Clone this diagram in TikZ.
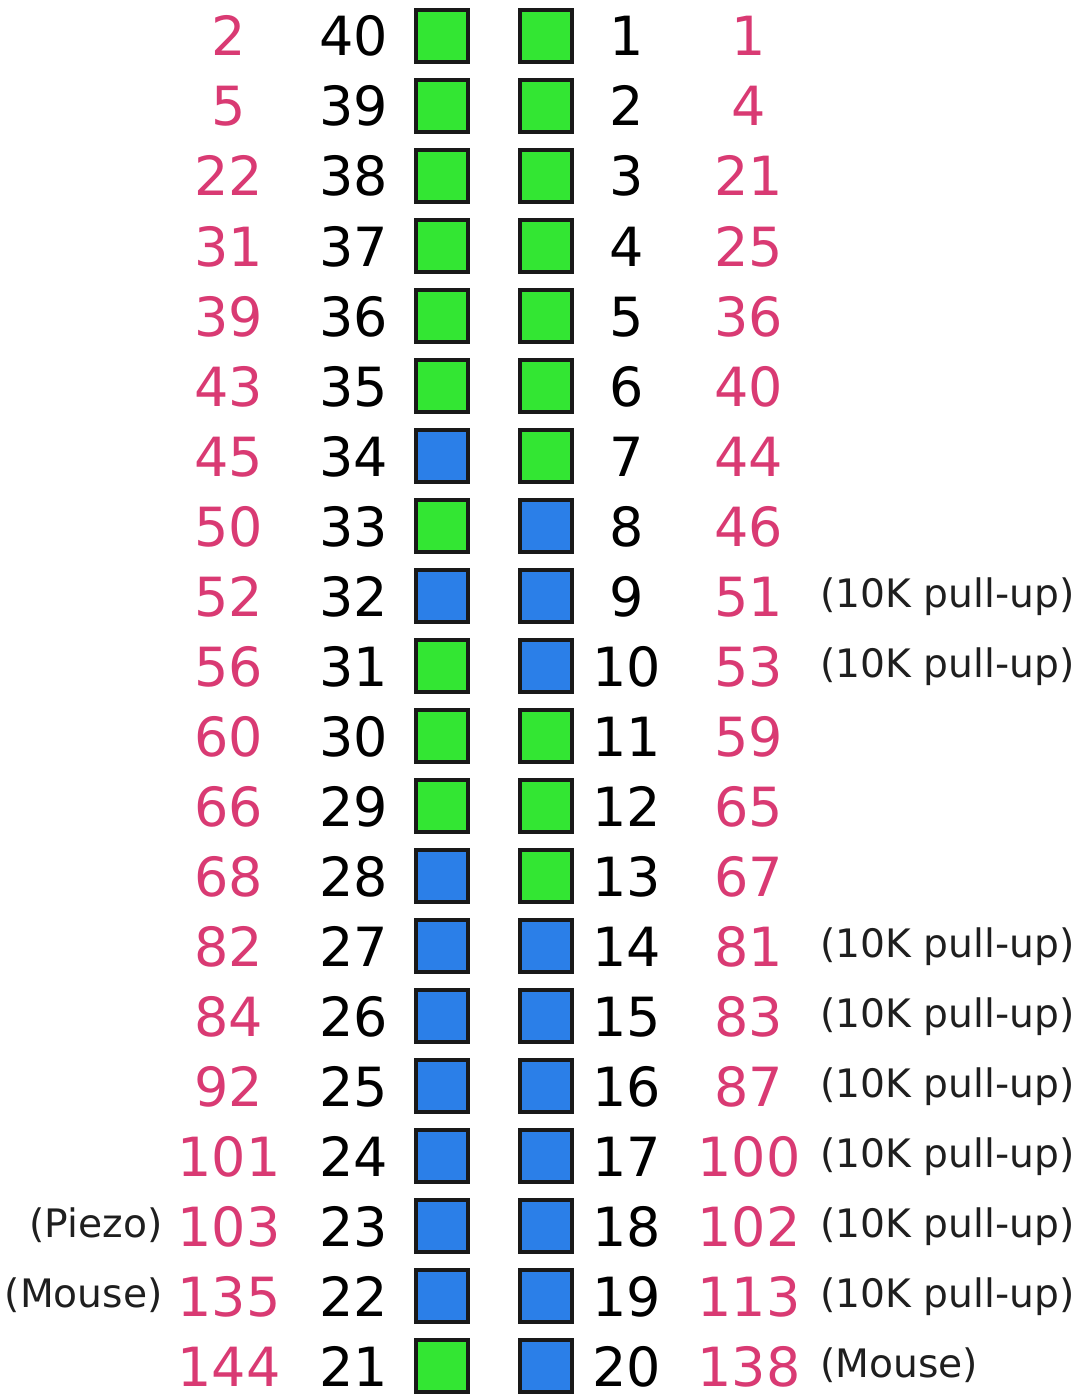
\documentclass[tikz,border=0pt]{standalone}
\usepackage{fontspec}
\setmainfont{DejaVu Sans}
\usetikzlibrary{positioning}

\definecolor{pinpink}{HTML}{D93A73}
\definecolor{padgreen}{HTML}{33E633}
\definecolor{padblue}{HTML}{2B7FE8}

\begin{document}
\begin{tikzpicture}[x=0.5pt, y=-0.5pt,
    pad/.style={draw=black!90, line width=1.7pt, minimum size=26pt, inner sep=0pt},
    gpad/.style={pad, fill=padgreen},
    bpad/.style={pad, fill=padblue},
    pinnum/.style={anchor=base, inner sep=0pt, font=\fontsize{27}{27}\selectfont},
    gpio/.style={pinnum, text=pinpink},
    note/.style={inner sep=0pt, font=\fontsize{19.6}{19.6}\selectfont, text=black!88}
  ]
    \useasboundingbox (0,0) rectangle (1080,1396);
    % header rows: left gpio / right gpio / left pad / right pad
    \foreach \lg/\rg/\ls/\rs [count=\i] in {
        2/1/gpad/gpad, 5/4/gpad/gpad, 22/21/gpad/gpad, 31/25/gpad/gpad,
        39/36/gpad/gpad, 43/40/gpad/gpad, 45/44/bpad/gpad, 50/46/gpad/bpad,
        52/51/bpad/bpad, 56/53/gpad/bpad, 60/59/gpad/gpad, 66/65/gpad/gpad,
        68/67/bpad/gpad, 82/81/bpad/bpad, 84/83/bpad/bpad, 92/87/bpad/bpad,
        101/100/bpad/bpad, 103/102/bpad/bpad, 135/113/bpad/bpad, 144/138/gpad/bpad} {
      \pgfmathsetmacro\yy{36+70*(\i-1)}
      \pgfmathsetmacro\yb{\yy+20}
      \pgfmathtruncatemacro\lp{41-\i}
      \node[\ls] (pad\lp) at (442,\yy) {};
      \node[\rs] (pad\i) at (546,\yy) {};
      \node[pinnum] (num\lp) at (354,\yb) {\lp};
      \node[pinnum] (num\i) at (627,\yb) {\i};
      \node[gpio] (gl\i) at (229,\yb) {\lg};
      \node[gpio] (gr\i) at (749,\yb) {\rg};
    }
    % notes
    \node[note, anchor=base east] (piezo) at (163,1237) {(Piezo)};
    \node[note, anchor=base east] (mousel) at (163,1307) {(Mouse)};
    \node[note, anchor=base west] (pu9) at (820,607) {(10K pull-up)};
    \node[note, anchor=base west] (pu10) at (820,677) {(10K pull-up)};
    \node[note, anchor=base west] (pu14) at (820,957) {(10K pull-up)};
    \node[note, anchor=base west] (pu15) at (820,1027) {(10K pull-up)};
    \node[note, anchor=base west] (pu16) at (820,1097) {(10K pull-up)};
    \node[note, anchor=base west] (pu17) at (820,1167) {(10K pull-up)};
    \node[note, anchor=base west] (pu18) at (820,1237) {(10K pull-up)};
    \node[note, anchor=base west] (pu19) at (820,1307) {(10K pull-up)};
    \node[note, anchor=base west] (mouser) at (820,1377) {(Mouse)};
  \end{tikzpicture}
\end{document}
